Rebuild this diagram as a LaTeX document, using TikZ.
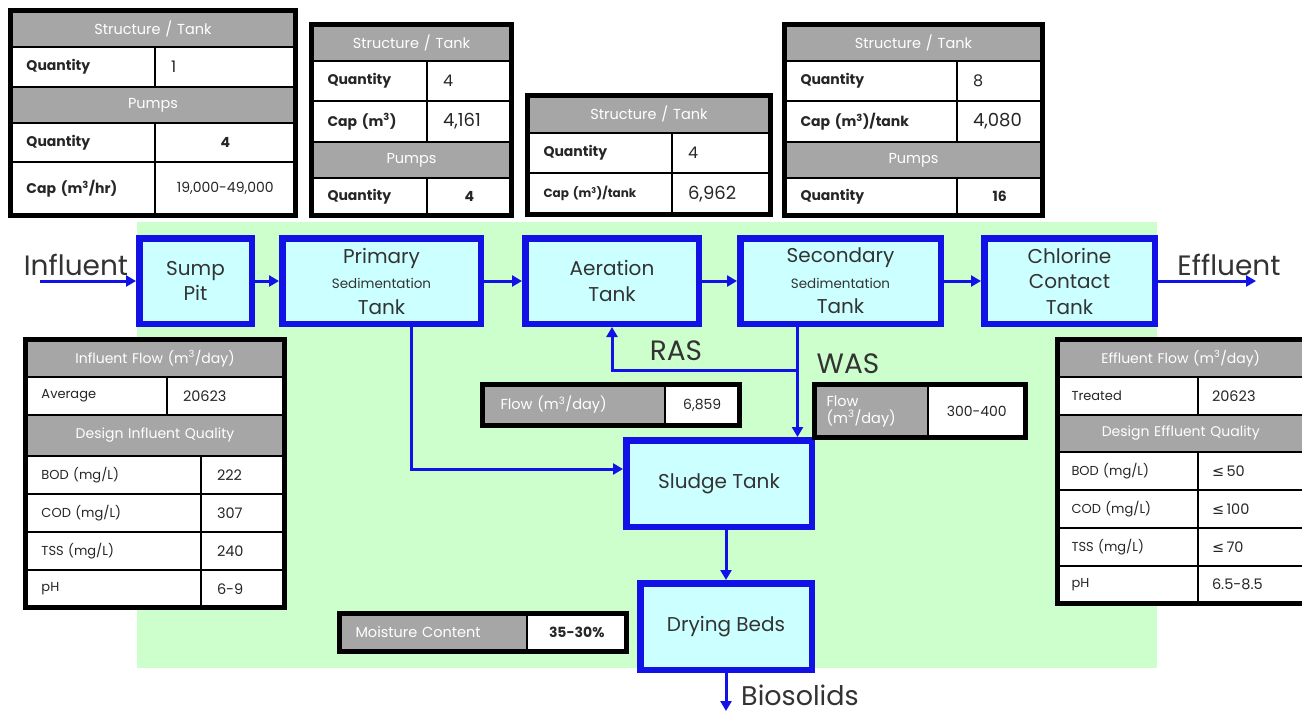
\documentclass[tikz,border=0pt]{standalone}
\usepackage{fontspec}
\setmainfont{Poppins}
\newfontfamily\symf{DejaVu Sans}
\usetikzlibrary{arrows.meta,calc}
\definecolor{bgreen}{RGB}{204,255,204}
\definecolor{bcyan}{RGB}{204,255,255}
\definecolor{bblue}{RGB}{18,18,230}
\definecolor{hgray}{RGB}{166,166,166}
\newcommand\mc{m\textsuperscript{3}}
\newcommand\lesym{{\symf ≤}\,}
\newcommand\fbig{\fontsize{20}{25.5}\selectfont}
\newcommand\fsed{\fontsize{13.5}{25.5}\selectfont}
\newcommand\flab{\fontsize{28}{30}\selectfont}
\newcommand\ftab{\fontsize{13}{16}\selectfont}
\newcommand\fval{\fontsize{14.5}{16}\selectfont}
\newcommand\ftabb{\fontsize{14}{16}\selectfont\bfseries}
\newcommand\ftabs{\fontsize{14}{16}\selectfont}
\newcommand\ftabl{\fontsize{18}{20}\selectfont}
\newcommand\ftabq{\fontsize{16}{18}\selectfont}
\newcommand\fhd{\fontsize{14.5}{17}\selectfont}
\newcommand\fhdb{\fontsize{14}{17}\selectfont}
\def\tcpad{9}
% name x1 y1 x2 y2 style text
\newcommand\tc[7]{%
  \pgfmathsetmacro\tcw{#4-#2}\pgfmathsetmacro\tch{#5-#3}\pgfmathsetmacro\tct{#4-#2-2*\tcpad}%
  \node[#6, minimum width=\tcw pt, minimum height=\tch pt, text width=\tct pt, inner xsep=\tcpad pt] (#1) at ({(#2+#4)/2},{(#3+#5)/2}) {#7};}
\begin{document}
\begin{tikzpicture}[x=1pt,y=-1pt,
  proc/.style={draw=bblue, line width=6.5pt, fill=bcyan, align=center, font=\fbig, inner sep=0pt, text=black!80},
  arr/.style={draw=bblue, line width=3pt, -{Triangle[length=10pt,width=11pt]}},
  lbl/.style={font=\flab, text=black!80, inner sep=0pt},
  cellb/.style={draw=black, line width=1.3pt, fill=white, inner ysep=0pt, font=\ftab, text=black!85},
  cl/.style={cellb, align=left},
  cc/.style={cellb, align=center},
  hd/.style={draw=black, line width=1.3pt, fill=hgray, text=white, align=center, inner ysep=0pt, font=\fhd},
  hl/.style={hd, align=left},
  outer/.style={draw=black, line width=5pt}]
\useasboundingbox (0,0) rectangle (1302,713);
\fill[white] (0,0) rectangle (1302,713);
\fill[bgreen] (137,222) rectangle (1157,668);

% ---- T1
\def\tcpad{16}
\tc{t1h}{10.5}{10.5}{295.5}{47}{hd}{Structure / Tank}
\tc{t1a}{10.5}{47}{155}{87}{cl,font=\ftabb}{Quantity}
\tc{t1b}{155}{47}{295.5}{87}{cl,font=\ftabq,inner xsep=8pt}{1}
\tc{t1p}{10.5}{87}{295.5}{123}{hd}{Pumps}
\tc{t1c}{10.5}{123}{155}{162}{cl,font=\ftabb}{Quantity}
\tc{t1d}{155}{123}{295.5}{162}{cc,font=\ftabb}{4}
\tc{t1e}{10.5}{162}{155}{215.5}{cl,font=\ftabb}{Cap (\mc/hr)}
\tc{t1f}{155}{162}{295.5}{215.5}{cc,font=\ftabs}{19,000-49,000}
\draw[outer] (10.5,10.5) rectangle (295.5,215.5);
% ---- T2
\tc{t2h}{311.5}{24.5}{511.5}{61}{hd}{Structure / Tank}
\tc{t2a}{311.5}{61}{427}{101}{cl,font=\ftabb}{Quantity}
\tc{t2b}{427}{61}{511.5}{101}{cl,font=\ftabq}{4}
\tc{t2c}{311.5}{101}{427}{142}{cl,font=\ftabb}{Cap (\mc)}
\tc{t2d}{427}{101}{511.5}{142}{cl,font=\ftabl}{4,161}
\tc{t2p}{311.5}{142}{511.5}{178}{hd}{Pumps}
\tc{t2e}{311.5}{178}{427}{215.5}{cl,font=\ftabb}{Quantity}
\tc{t2f}{427}{178}{511.5}{215.5}{cc,font=\ftabb}{4}
\draw[outer] (311.5,24.5) rectangle (511.5,215.5);
% ---- T3
\tc{t3h}{527.5}{95.5}{770.5}{133}{hd}{Structure / Tank}
\tc{t3a}{527.5}{133}{672}{173}{cl,font=\ftabb}{Quantity}
\tc{t3b}{672}{133}{770.5}{173}{cl,font=\ftabq,inner xsep=10pt}{4}
\tc{t3c}{527.5}{173}{672}{214.5}{cl,font=\fontsize{12}{14}\selectfont\bfseries}{Cap (\mc)/tank}
\tc{t3d}{672}{173}{770.5}{214.5}{cl,font=\ftabl,inner xsep=8pt}{6,962}
\draw[outer] (527.5,95.5) rectangle (770.5,214.5);
% ---- T4
\tc{t4h}{784.5}{24.5}{1042.5}{61}{hd}{Structure / Tank}
\tc{t4a}{784.5}{61}{957}{101}{cl,font=\ftabb}{Quantity}
\tc{t4b}{957}{61}{1042.5}{101}{cl,font=\ftabq,inner xsep=12pt}{8}
\tc{t4c}{784.5}{101}{957}{142}{cl,font=\ftabb}{Cap (\mc)/tank}
\tc{t4d}{957}{101}{1042.5}{142}{cl,font=\ftabl,inner xsep=12pt}{4,080}
\tc{t4p}{784.5}{142}{1042.5}{178}{hd}{Pumps}
\tc{t4e}{784.5}{178}{957}{215.5}{cl,font=\ftabb}{Quantity}
\tc{t4f}{957}{178}{1042.5}{215.5}{cc,font=\ftabb}{16}
\draw[outer] (784.5,24.5) rectangle (1042.5,215.5);

% ---- process boxes
\node[proc, minimum width=112.5pt, minimum height=85.5pt] (sump) at (195.5,281) {Sump\\Pit};
\node[proc, minimum width=198.5pt, minimum height=85.5pt] (prim) at (381.5,281) {Primary\\{\fsed Sedimentation}\\Tank};
\node[proc, minimum width=173.5pt, minimum height=85.5pt] (aer) at (612,281) {Aeration\\Tank};
\node[proc, minimum width=200.5pt, minimum height=85.5pt] (sec) at (840.5,281) {Secondary\\{\fsed Sedimentation}\\Tank};
\node[proc, minimum width=170.5pt, minimum height=85.5pt] (chl) at (1069.5,281) {Chlorine\\Contact\\Tank};
\node[proc, minimum width=185.5pt, minimum height=86.5pt] (sludge) at (719,483.5) {Sludge Tank};
\node[proc, minimum width=171.5pt, minimum height=86.5pt] (dry) at (726,626.5) {Drying Beds};

% ---- connectors
\coordinate (inS) at (40,281);
\coordinate (outE) at (1256,281);
\coordinate (bio) at (726,711);
\draw[arr] (inS) -- (sump.west);
\draw[arr] (sump.east) -- (prim.west);
\draw[arr] (prim.east) -- (aer.west);
\draw[arr] (aer.east) -- (sec.west);
\draw[arr] (sec.east) -- (chl.west);
\draw[arr] (chl.east) -- (outE);
\draw[arr] ([xshift=29.5pt]prim.south) |- ([yshift=14.5pt]sludge.west);
\draw[arr] ([xshift=-43pt]sec.south) -- ([xshift=-43pt]sec.south |- sludge.north);
\coordinate (ras) at ([xshift=-43pt]sec.south |- 0,370);
\draw[arr] (ras) -| (aer.south);
\draw[arr] (sludge.south -| dry.north) -- (dry.north);
\draw[arr] (dry.south) -- (bio);

% ---- labels
\node[lbl] (linf) at (76,265) {Influent};
\node[lbl] (leff) at (1229,265) {Effluent};
\node[lbl] (lras) at (676,351) {RAS};
\node[lbl] (lwas) at (848,364) {WAS};
\node[lbl, anchor=west, font=\fontsize{27}{30}\selectfont] (lbio) at (741,695) {Biosolids};

% ---- T5
\def\tcpad{16}
\tc{t5h}{25.5}{339.5}{284.5}{377}{hd,font=\fhdb}{Influent Flow (\mc/day)}
\tc{t5a}{25.5}{377}{167}{415}{cl}{Average}
\tc{t5b}{167}{377}{284.5}{415}{cl,font=\fval,inner xsep=11pt}{20623}
\tc{t5p}{25.5}{415}{284.5}{456}{hd,font=\fhdb}{Design Influent Quality}
\tc{t5c}{25.5}{456}{201}{494}{cl}{BOD (mg/L)}
\tc{t5d}{201}{456}{284.5}{494}{cl,font=\fval}{222}
\tc{t5e}{25.5}{494}{201}{532}{cl}{COD (mg/L)}
\tc{t5f}{201}{494}{284.5}{532}{cl,font=\fval}{307}
\tc{t5g}{25.5}{532}{201}{570}{cl}{TSS (mg/L)}
\tc{t5i}{201}{532}{284.5}{570}{cl,font=\fval}{240}
\tc{t5j}{25.5}{570}{201}{607.5}{cl}{pH}
\tc{t5k}{201}{570}{284.5}{607.5}{cl,font=\fval}{6-9}
\draw[outer] (25.5,339.5) rectangle (284.5,607.5);
% ---- T6
\def\tcpad{14}
\tc{t6h}{1057.5}{339.5}{1304}{377}{hd,font=\fhdb}{Effluent Flow (\mc/day)}
\tc{t6a}{1057.5}{377}{1198}{415}{cl}{Treated}
\tc{t6b}{1198}{377}{1304}{415}{cl,font=\fval,inner xsep=9pt}{20623}
\tc{t6p}{1057.5}{415}{1304}{452}{hd,font=\fhdb}{Design Effluent Quality}
\tc{t6c}{1057.5}{452}{1198}{490}{cl}{BOD (mg/L)}
\tc{t6d}{1198}{452}{1304}{490}{cl,font=\fval,inner xsep=9pt}{\lesym 50}
\tc{t6e}{1057.5}{490}{1198}{528}{cl}{COD (mg/L)}
\tc{t6f}{1198}{490}{1304}{528}{cl,font=\fval,inner xsep=9pt}{\lesym 100}
\tc{t6g}{1057.5}{528}{1198}{566}{cl}{TSS (mg/L)}
\tc{t6i}{1198}{528}{1304}{566}{cl,font=\fval,inner xsep=9pt}{\lesym 70}
\tc{t6j}{1057.5}{566}{1198}{603.5}{cl}{pH}
\tc{t6k}{1198}{566}{1304}{603.5}{cl,font=\fval,inner xsep=9pt}{6.5-8.5}
\draw[outer] (1057.5,339.5) rectangle (1306,603.5);
% ---- T7 RAS flow
\def\tcpad{18}
\tc{t7a}{482.5}{384.5}{665}{425.5}{hl}{Flow (\mc/day)}
\tc{t7b}{665}{384.5}{739.5}{425.5}{cc,font=\ftabs,inner xsep=4pt}{6,859}
\draw[outer] (482.5,384.5) rectangle (739.5,425.5);
% ---- T8 WAS flow
\def\tcpad{12}
\tc{t8a}{814.5}{384.5}{928}{437.5}{hl}{Flow\\(\mc/day)}
\tc{t8b}{928}{384.5}{1025.5}{437.5}{cc,font=\ftabs,inner xsep=4pt}{300-400}
\draw[outer] (814.5,384.5) rectangle (1025.5,437.5);
% ---- T9 moisture
\def\tcpad{16}
\tc{t9a}{339.5}{613.5}{527}{651.5}{hl,font=\fontsize{14.5}{17}\selectfont}{Moisture Content}
\tc{t9b}{527}{613.5}{626.5}{651.5}{cc,font=\ftabb,inner xsep=4pt}{35-30\%}
\draw[outer] (339.5,613.5) rectangle (626.5,651.5);
\end{tikzpicture}
\end{document}
